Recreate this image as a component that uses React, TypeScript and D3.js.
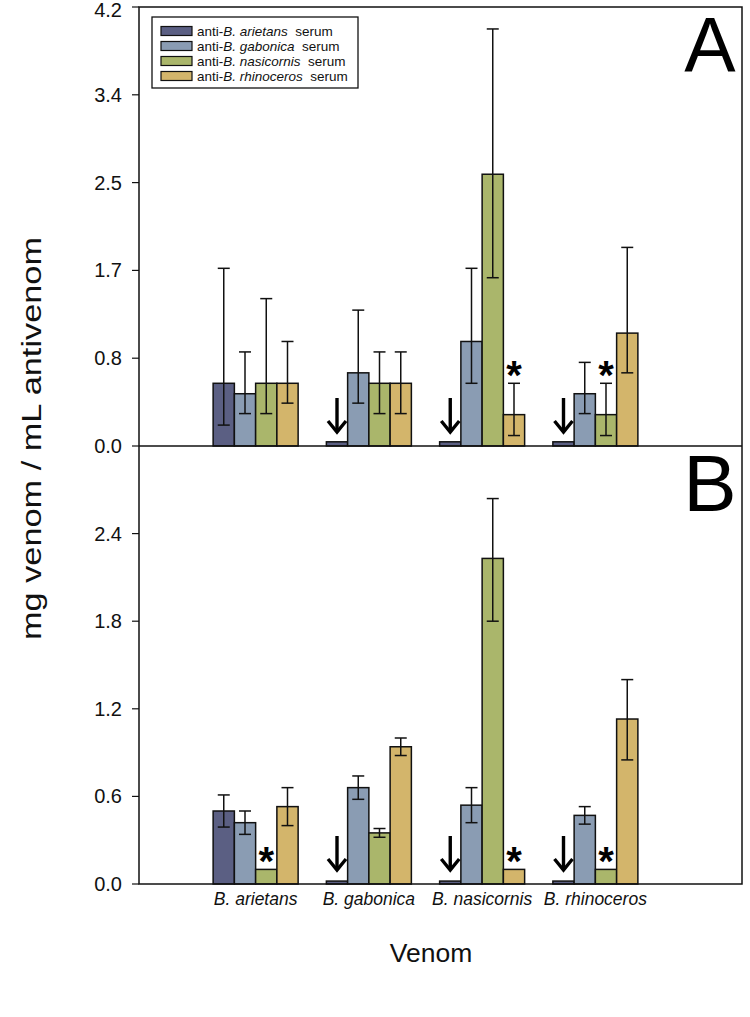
import React from "react";
import * as d3 from "d3";

const categories = ["B. arietans", "B. gabonica", "B. nasicornis", "B. rhinoceros"];
const seriesNames = ["arietans", "gabonica", "nasicornis", "rhinoceros"];
const seriesColors = ["#5b5f83", "#8a9cb3", "#aab66b", "#d3b56b"];

// Panel A (means and error-bar limits, per serum series across venoms)
const aArietans = [0.6, 0.04, 0.04, 0.04];
const aArietansHi = [1.7, null, null, null];
const aArietansLo = [0.2, null, null, null];
const aGabonica = [0.5, 0.7, 1.0, 0.5];
const aGabonicaHi = [0.9, 1.3, 1.7, 0.8];
const aGabonicaLo = [0.31, 0.41, 0.6, 0.31];
const aNasicornis = [0.6, 0.6, 2.6, 0.3];
const aNasicornisHi = [1.41, 0.9, 3.99, 0.6];
const aNasicornisLo = [0.31, 0.31, 1.61, 0.1];
const aRhinoceros = [0.6, 0.6, 0.3, 1.08];
const aRhinocerosHi = [1.0, 0.9, 0.6, 1.9];
const aRhinocerosLo = [0.41, 0.31, 0.1, 0.7];

// Panel B
const bArietans = [0.5, 0.02, 0.02, 0.02];
const bArietansHi = [0.61, null, null, null];
const bArietansLo = [0.39, null, null, null];
const bGabonica = [0.42, 0.66, 0.54, 0.47];
const bGabonicaHi = [0.5, 0.74, 0.66, 0.53];
const bGabonicaLo = [0.34, 0.58, 0.42, 0.41];
const bNasicornis = [0.1, 0.35, 2.23, 0.1];
const bNasicornisHi = [null, 0.38, 2.64, null];
const bNasicornisLo = [null, 0.32, 1.8, null];
const bRhinoceros = [0.53, 0.94, 0.1, 1.13];
const bRhinocerosHi = [0.66, 1.0, null, 1.4];
const bRhinocerosLo = [0.4, 0.88, null, 0.85];

const aTicks = [0, 0.84, 1.68, 2.52, 3.36, 4.2];
const aTickLabels = ["0.0", "0.8", "1.7", "2.5", "3.4", "4.2"];
const bTicks = [0, 0.6, 1.2, 1.8, 2.4];
const bTickLabels = ["0.0", "0.6", "1.2", "1.8", "2.4"];

// markers: [seriesIndex, categoryIndex]
const aArrows = [[0, 1], [0, 2], [0, 3]];
const aStars = [[3, 2], [2, 3]];
const bArrows = [[0, 1], [0, 2], [0, 3]];
const bStars = [[2, 0], [3, 2], [2, 3]];

const FONT = "'Liberation Sans', Arial, Helvetica, sans-serif";

const L = 139, R = 742, TOP = 7, MID = 446, BOT = 884;

const x0 = d3.scaleBand<string>().domain(categories).range([199, 652]).padding(0);
const GROUPW = 85;
const x1 = d3.scaleBand<string>().domain(seriesNames).range([0, GROUPW]).padding(0);

const yA = d3.scaleLinear().domain([0, 4.2]).range([MID, TOP]);
const yB = d3.scaleLinear().domain([0, 3.0]).range([BOT, MID]);

type Panel = {
  y: d3.ScaleLinear<number, number>;
  vals: number[][];
  hi: (number | null)[][];
  lo: (number | null)[][];
  ticks: number[];
  labels: string[];
  arrows: number[][];
  stars: number[][];
  label: string;
  labelY: number;
  labelSize: number;
};

const panels: Panel[] = [
  {
    y: yA,
    vals: [aArietans, aGabonica, aNasicornis, aRhinoceros],
    hi: [aArietansHi, aGabonicaHi, aNasicornisHi, aRhinocerosHi],
    lo: [aArietansLo, aGabonicaLo, aNasicornisLo, aRhinocerosLo],
    ticks: aTicks,
    labels: aTickLabels,
    arrows: aArrows,
    stars: aStars,
    label: "A",
    labelY: 72,
    labelSize: 77,
  },
  {
    y: yB,
    vals: [bArietans, bGabonica, bNasicornis, bRhinoceros],
    hi: [bArietansHi, bGabonicaHi, bNasicornisHi, bRhinocerosHi],
    lo: [bArietansLo, bGabonicaLo, bNasicornisLo, bRhinocerosLo],
    ticks: bTicks,
    labels: bTickLabels,
    arrows: bArrows,
    stars: bStars,
    label: "B",
    labelY: 511,
    labelSize: 80,
  },
];

function barX(si: number, ci: number) {
  const gx = (x0(categories[ci]) as number) + (x0.bandwidth() - GROUPW) / 2;
  return gx + (x1(seriesNames[si]) as number);
}

function PanelView({ p }: { p: Panel }) {
  const bw = x1.bandwidth();
  const y = p.y;
  const base = y(0);
  const elems: React.ReactNode[] = [];
  p.vals.forEach((arr, si) => {
    arr.forEach((v, ci) => {
      const bx = barX(si, ci);
      elems.push(
        <rect key={`b${si}-${ci}`} x={bx} y={y(v)} width={bw} height={base - y(v)}
          fill={seriesColors[si]} stroke="#111" strokeWidth={1.5} />
      );
    });
  });
  p.vals.forEach((arr, si) => {
    arr.forEach((v, ci) => {
      const h = p.hi[si][ci];
      const l = p.lo[si][ci];
      if (h == null || l == null) return;
      const cx = barX(si, ci) + bw / 2;
      elems.push(
        <g key={`e${si}-${ci}`} stroke="#111" strokeWidth={1.5}>
          <line x1={cx} x2={cx} y1={y(h)} y2={y(l)} />
          <line x1={cx - 6} x2={cx + 6} y1={y(h)} y2={y(h)} />
          <line x1={cx - 6} x2={cx + 6} y1={y(l)} y2={y(l)} />
        </g>
      );
    });
  });
  p.arrows.forEach(([si, ci], i) => {
    const cx = barX(si, ci) + bw / 2;
    const tip = base - 14;
    const top = tip - 34;
    elems.push(
      <g key={`a${i}`} stroke="#000" strokeWidth={3.4} fill="none" strokeLinecap="butt" strokeLinejoin="miter">
        <line x1={cx} x2={cx} y1={top} y2={tip - 1} />
        <polyline points={`${cx - 9},${tip - 11} ${cx},${tip} ${cx + 9},${tip - 11}`} />
      </g>
    );
  });
  p.stars.forEach(([si, ci], i) => {
    const cx = barX(si, ci) + bw / 2;
    const h = p.hi[si][ci];
    const topV = h != null ? h : p.vals[si][ci];
    elems.push(
      <text key={`s${i}`} x={cx} y={y(topV) + 6} textAnchor="middle" fontFamily={FONT}
        fontWeight="bold" fontSize={40} fill="#000">*</text>
    );
  });
  return (
    <g>
      {elems}
      {p.ticks.map((t, i) => (
        <g key={`t${i}`}>
          <line x1={L - 7} x2={L} y1={y(t)} y2={y(t)} stroke="#111" strokeWidth={1.2} />
          <text x={L - 17} y={y(t)} dy={t === 4.2 ? "0.48em" : "0.35em"} textAnchor="end" fontFamily={FONT}
            fontSize={20} fill="#111">{p.labels[i]}</text>
        </g>
      ))}
      <text x={710} y={p.labelY} textAnchor="middle" fontFamily={FONT} fontSize={p.labelSize} fill="#000">{p.label}</text>
    </g>
  );
}

export default function App() {
  return (
    <svg width={750} height={1017} style={{ position: "absolute", left: 0, top: 0, background: "#fff" }}>
      <rect x={0} y={0} width={750} height={1017} fill="#fff" />
      {panels.map((p, i) => <PanelView key={i} p={p} />)}
      {/* frame */}
      <g stroke="#111" strokeWidth={1.5} fill="none">
        <rect x={L} y={TOP} width={R - L} height={BOT - TOP} />
        <line x1={L} x2={R} y1={MID} y2={MID} />
      </g>
      {/* legend */}
      <g>
        <rect x={152} y={17} width={206} height={71} fill="#fff" stroke="#111" strokeWidth={1.3} />
        {seriesNames.map((name, i) => {
          const cy = 31 + i * 15;
          return (
            <g key={name}>
              <rect x={161} y={cy - 4.5} width={31} height={9} fill={seriesColors[i]} stroke="#111" strokeWidth={1.2} />
              <text x={197} y={cy} dy="0.36em" fontFamily={FONT} fontSize={13.5} fill="#111">
                anti-<tspan fontStyle="italic">B. {name}</tspan>{"\u00a0 serum"}
              </text>
            </g>
          );
        })}
      </g>
      {/* x category labels */}
      {categories.map((c) => (
        <text key={c} x={(x0(c) as number) + x0.bandwidth() / 2} y={905} textAnchor="middle"
          fontFamily={FONT} fontStyle="italic" fontSize={17.5} fill="#111">{c}</text>
      ))}
      <text x={431} y={962} textAnchor="middle" fontFamily={FONT} fontSize={26.5} fill="#111">Venom</text>
      <text transform={`translate(41,438.5) rotate(-90)`} textAnchor="middle" fontFamily={FONT}
        fontSize={27} textLength={403} lengthAdjust="spacingAndGlyphs" fill="#111">mg venom / mL antivenom</text>
    </svg>
  );
}
